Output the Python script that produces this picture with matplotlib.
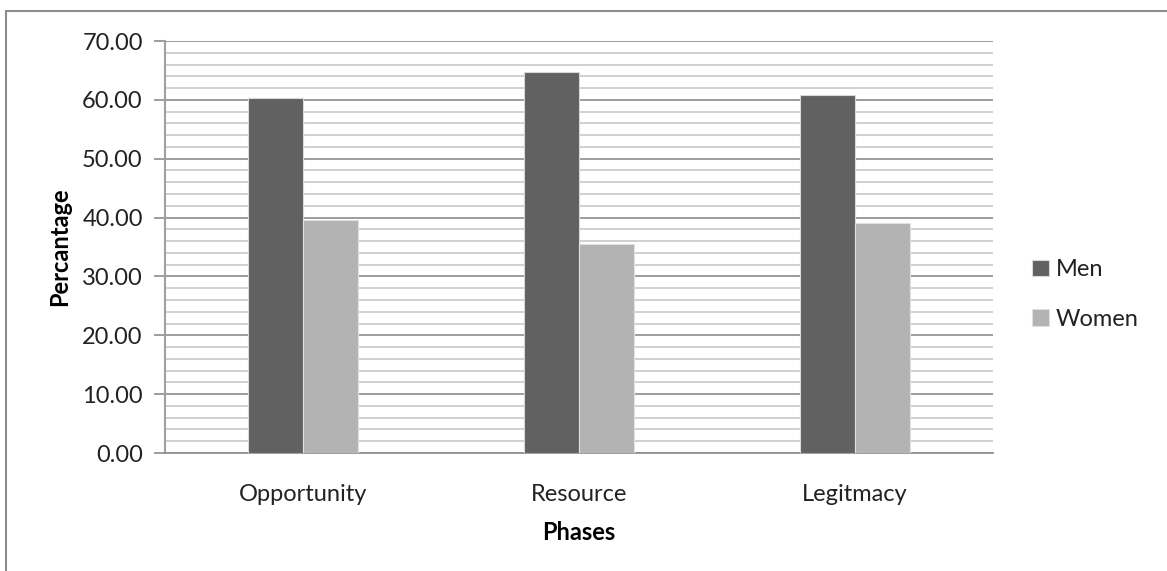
import matplotlib.pyplot as plt
import numpy as np
from matplotlib.patches import Rectangle
from matplotlib.ticker import MultipleLocator

phases = ["Opportunity", "Resource", "Legitmacy"]
men = [60.36, 64.72, 60.80]
women = [39.53, 35.50, 39.14]

plt.rcParams['font.family'] = ['Lato', 'DejaVu Sans']

fig = plt.figure(figsize=(11.67, 5.71), dpi=100)
ax = fig.add_axes([165 / 1167, 1 - 453 / 571, 828 / 1167, 412 / 571])

x = np.arange(len(phases))
w = 0.2
ax.bar(x - w / 2, men, w, color="#616161", edgecolor="#d8d8d8", linewidth=0.8,
       label="Men", zorder=3)
ax.bar(x + w / 2, women, w, color="#b3b3b3", edgecolor="#e0e0e0", linewidth=0.8,
       label="Women", zorder=3)

ax.set_xlim(-0.5, 2.5)
ax.set_ylim(0, 70)
ax.yaxis.set_minor_locator(MultipleLocator(2))
ax.set_yticks(np.arange(0, 71, 10))
ax.set_yticklabels([f"{v:.2f}" for v in np.arange(0, 71, 10)])
ax.set_xticks(x)
ax.set_xticklabels(phases)

ax.grid(which="major", axis="y", color="#8c8c8c", linewidth=1.2, zorder=1)
ax.grid(which="minor", axis="y", color="#c8c8c8", linewidth=1.2, zorder=1)

for side in ["top", "right"]:
    ax.spines[side].set_visible(False)
ax.spines["left"].set_color("#a0a0a0")
ax.spines["left"].set_linewidth(1.5)
ax.spines["bottom"].set_color("#8c8c8c")
ax.spines["bottom"].set_linewidth(1.2)

ax.tick_params(axis="y", which="major", length=8, color="#8c8c8c", width=1.2,
               labelsize=17, pad=8, labelcolor="#222222")
ax.tick_params(axis="y", which="minor", length=0)
ax.tick_params(axis="x", length=0, labelsize=17, pad=22, labelcolor="#222222")

ax.set_ylabel("Percantage", fontsize=17, fontweight="bold", labelpad=8)
ax.set_xlabel("Phases", fontsize=17, fontweight="bold", labelpad=12)

ax.legend(loc="center left", bbox_to_anchor=(1.022, 0.385), frameon=False,
          fontsize=17, handlelength=0.7, handleheight=0.7, handletextpad=0.3,
          labelspacing=1.2, labelcolor="#222222")

# outer chart frame
fig.add_artist(Rectangle((6 / 1167, -0.2), 1.2, 1.2 - 11 / 571,
                         transform=fig.transFigure, fill=False,
                         edgecolor="#8c8c8c", linewidth=1.5))

fig.savefig("out.png", dpi=100)
